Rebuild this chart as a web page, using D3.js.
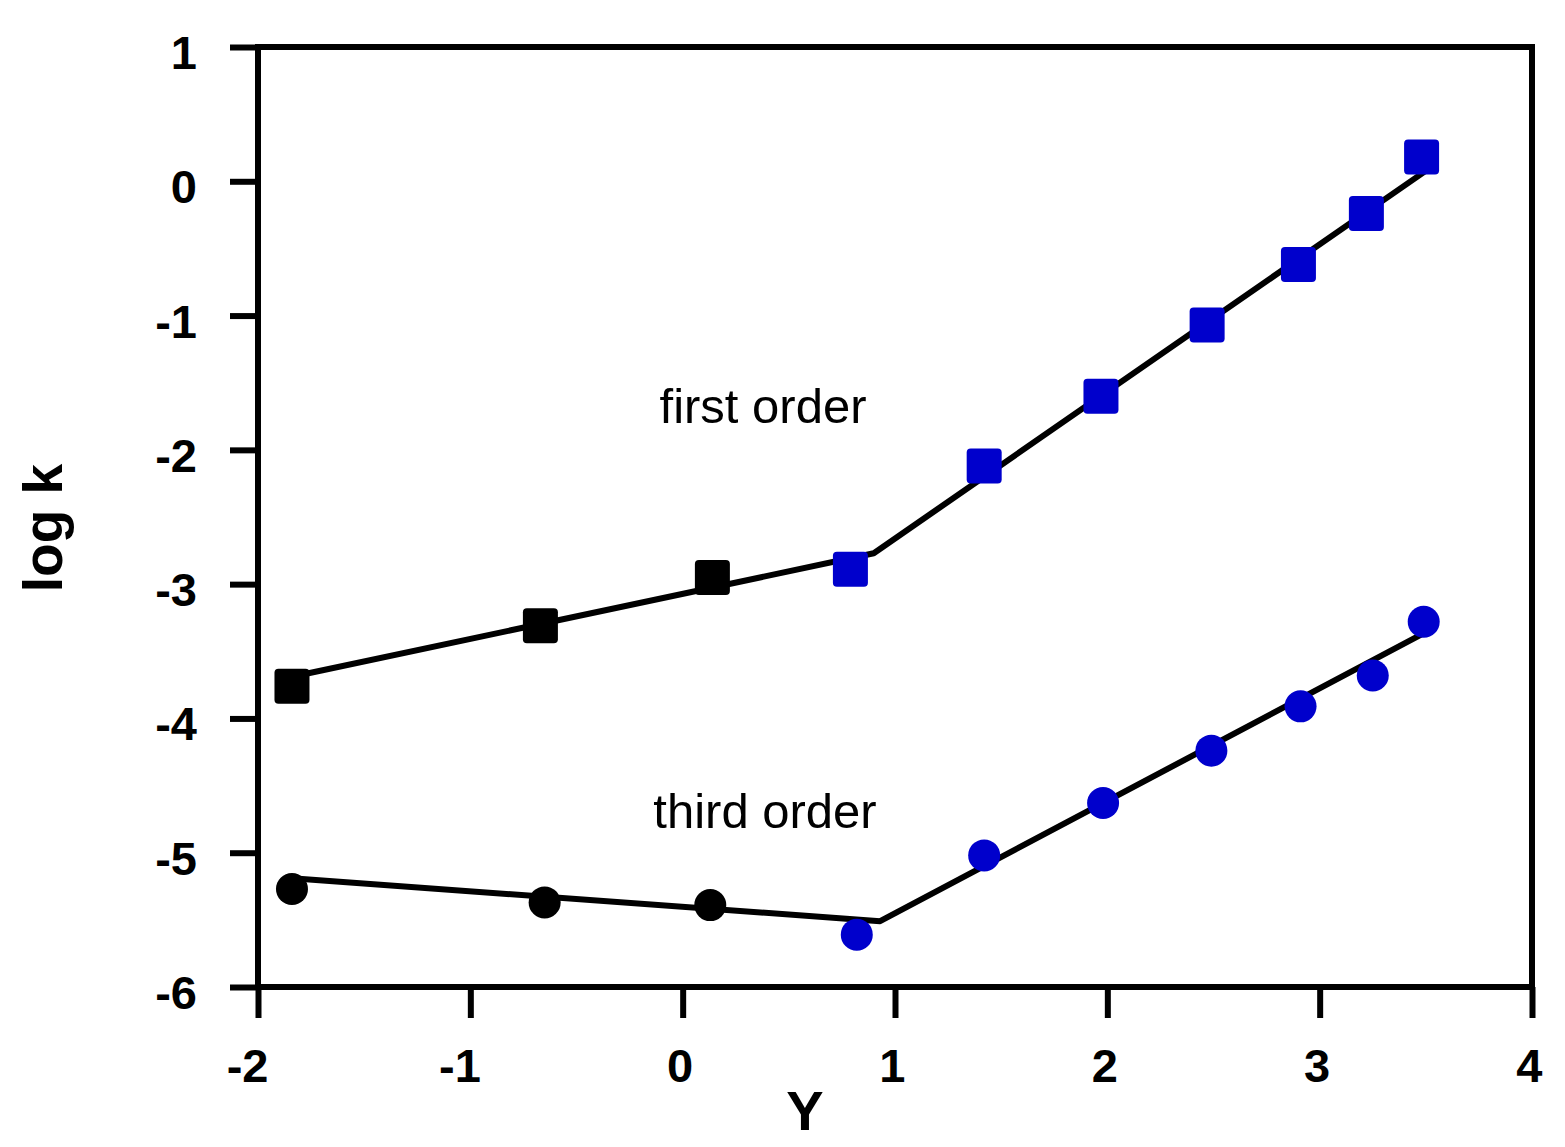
<!DOCTYPE html>
<html>
<head>
<meta charset="utf-8">
<script src="https://cdn.jsdelivr.net/npm/d3@7"></script>
<style>
  html, body { margin: 0; padding: 0; background: #fff; }
  svg { display: block; }
</style>
</head>
<body>
<svg id="chart" width="1565" height="1147"></svg>
<script>
// ---- data ----
const firstX = [-1.84, -0.67, 0.14, 0.79, 1.42, 1.97, 2.47, 2.90, 3.22, 3.48];
const firstY = [-3.76, -3.31, -2.95, -2.89, -2.12, -1.60, -1.07, -0.62, -0.24, 0.18];
const thirdX = [-1.84, -0.65, 0.13, 0.82, 1.42, 1.98, 2.49, 2.91, 3.25, 3.49];
const thirdY = [-5.27, -5.37, -5.39, -5.61, -5.02, -4.63, -4.24, -3.91, -3.68, -3.28];
const regime = ["low", "low", "low", "high", "high", "high", "high", "high", "high", "high"];

const firstFitX = [-1.84, 0.90, 3.52];
const firstFitY = [-3.69, -2.77, 0.10];
const thirdFitX = [-1.84, 0.93, 3.52];
const thirdFitY = [-5.19, -5.51, -3.34];

const xTicks = [-2, -1, 0, 1, 2, 3, 4];
const yTicks = [1, 0, -1, -2, -3, -4, -5, -6];
const labels = { x: "Y", y: "log k", first: "first order", third: "third order" };

// ---- drawing ----
const svg = d3.select("#chart");
const font = "'Liberation Sans', Arial, Helvetica, sans-serif";
const L = 258, R = 1532, T = 47, B = 987;
const fmt = d => String(d);  // plain hyphen-minus as in the original

const x = d3.scaleLinear().domain([-2, 4]).range([L, R]);
const y = d3.scaleLinear().domain([-6, 1]).range([B, T]);
const color = d3.scaleOrdinal().domain(["low", "high"]).range(["#000000", "#0000cc"]);

svg.append("rect").attr("width", 1565).attr("height", 1147).attr("fill", "#fff");

// frame
svg.append("rect")
  .attr("x", L).attr("y", T).attr("width", R - L).attr("height", B - T)
  .attr("fill", "none").attr("stroke", "#000").attr("stroke-width", 6);

// x ticks
const xAxis = d3.axisBottom(x).tickValues(xTicks).tickSize(31).tickSizeOuter(0).tickFormat(fmt);
const gx = svg.append("g").attr("transform", `translate(0,${B})`).call(xAxis);
gx.select(".domain").remove();
gx.selectAll(".tick line").attr("stroke", "#000").attr("stroke-width", 6);
gx.selectAll(".tick text")
  .attr("y", 95).attr("dy", 0).attr("x", 10)
  .attr("text-anchor", "end")
  .attr("font-family", font).attr("font-weight", "bold").attr("font-size", 47).attr("fill", "#000");

// y ticks
const yAxis = d3.axisLeft(y).tickValues(yTicks).tickSize(28).tickSizeOuter(0).tickFormat(fmt);
const gy = svg.append("g").attr("transform", `translate(${L},0)`).call(yAxis);
gy.select(".domain").remove();
gy.selectAll(".tick line").attr("stroke", "#000").attr("stroke-width", 6);
gy.selectAll(".tick text")
  .attr("x", -61).attr("dy", "0.35em").attr("y", 5)
  .attr("text-anchor", "end")
  .attr("font-family", font).attr("font-weight", "bold").attr("font-size", 47).attr("fill", "#000");

// fit lines
const line = d3.line().x(d => x(d[0])).y(d => y(d[1]));
[[firstFitX, firstFitY], [thirdFitX, thirdFitY]].forEach(([xs, ys]) => {
  svg.append("path")
    .datum(xs.map((v, i) => [v, ys[i]]))
    .attr("d", line)
    .attr("fill", "none").attr("stroke", "#000").attr("stroke-width", 6)
    .attr("stroke-linejoin", "round");
});

// first-order squares
const sq = 35;
svg.append("g").selectAll("rect")
  .data(firstX.map((v, i) => ({ x: v, y: firstY[i], r: regime[i] })))
  .join("rect")
  .attr("x", d => x(d.x) - sq / 2).attr("y", d => y(d.y) - sq / 2)
  .attr("width", sq).attr("height", sq).attr("rx", 4)
  .attr("fill", d => color(d.r));

// third-order circles
svg.append("g").selectAll("circle")
  .data(thirdX.map((v, i) => ({ x: v, y: thirdY[i], r: regime[i] })))
  .join("circle")
  .attr("cx", d => x(d.x)).attr("cy", d => y(d.y)).attr("r", 16)
  .attr("fill", d => color(d.r));

// annotations
svg.append("text").attr("x", 763).attr("y", 423).attr("text-anchor", "middle")
  .attr("font-family", font).attr("font-size", 49).attr("fill", "#000").text(labels.first);
svg.append("text").attr("x", 765).attr("y", 828).attr("text-anchor", "middle")
  .attr("font-family", font).attr("font-size", 49).attr("fill", "#000").text(labels.third);

// axis titles
svg.append("text").attr("x", 805).attr("y", 1130).attr("text-anchor", "middle")
  .attr("font-family", font).attr("font-weight", "bold").attr("font-size", 56).attr("fill", "#000").text(labels.x);
svg.append("text").attr("transform", "translate(62,528) rotate(-90)").attr("text-anchor", "middle")
  .attr("font-family", font).attr("font-weight", "bold").attr("font-size", 55).attr("fill", "#000").text(labels.y);
</script>
</body>
</html>
